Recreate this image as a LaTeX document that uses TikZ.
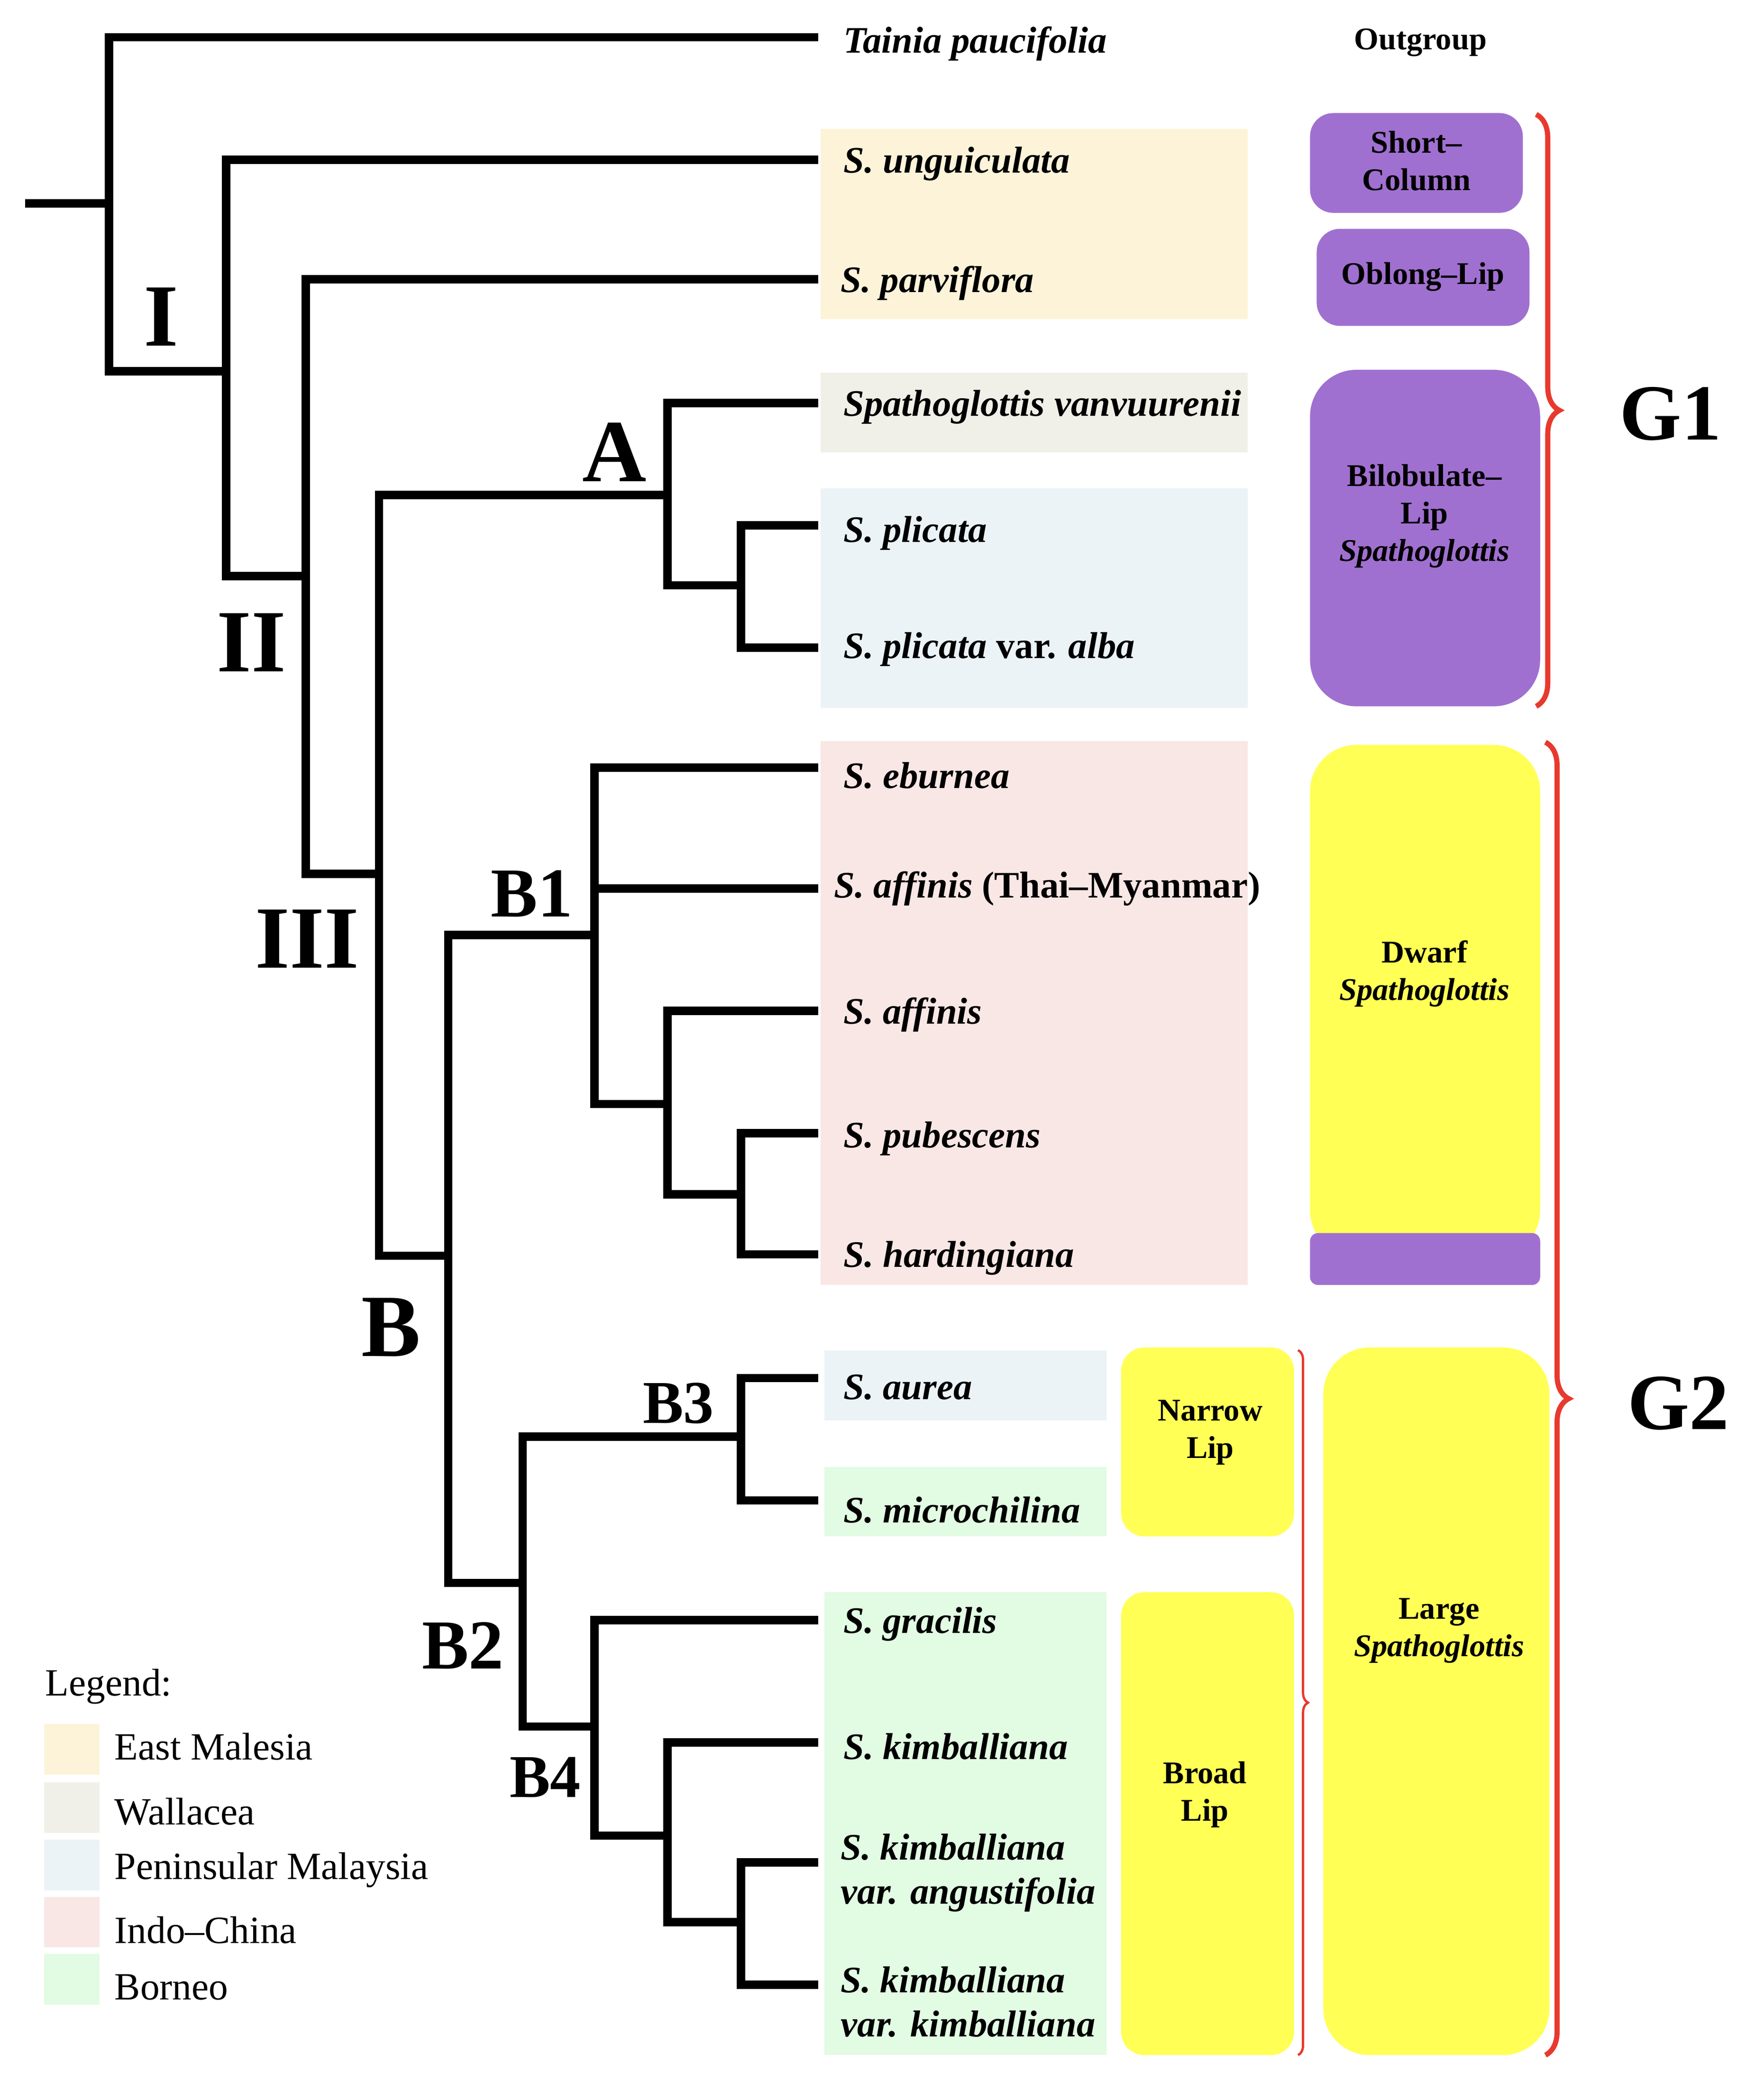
\documentclass[tikz,border=0pt]{standalone}
\usepackage{fontspec}
\setmainfont{Liberation Serif}
\usetikzlibrary{decorations.pathreplacing}
\begin{document}
\begin{tikzpicture}[x=0.02cm,y=-0.02cm,
 br/.style={line width=3.6pt,line cap=rect},
 tx/.style={anchor=west,font=\fontsize{16}{19}\selectfont\itshape\bfseries},
 big/.style={font=\fontsize{38}{42}\selectfont\bfseries},
 mid/.style={font=\fontsize{26}{30}\selectfont\bfseries},
 box/.style={rounded corners=0.35cm},
 bl/.style={font=\fontsize{13.5}{16}\selectfont\bfseries,align=center},
 lg/.style={anchor=west,font=\fontsize{16.5}{19}\selectfont}]
\useasboundingbox (0,0) rectangle (1326,1578);
\definecolor{em}{HTML}{FDF3D9}\definecolor{wa}{HTML}{F1F0E8}
\definecolor{pm}{HTML}{EBF3F7}\definecolor{ic}{HTML}{F9E7E5}
\definecolor{bo}{HTML}{E2FBE3}\definecolor{pu}{HTML}{A070D0}
\definecolor{ye}{HTML}{FFFF55}\definecolor{rd}{HTML}{E8392E}
% region backgrounds
\fill[em] (617,97) rectangle (938,240);
\fill[wa] (617,280) rectangle (938,340);
\fill[pm] (617,367) rectangle (938,532);
\fill[ic] (617,557) rectangle (938,966);
\fill[pm] (620,1015) rectangle (832,1068);
\fill[bo] (620,1103) rectangle (832,1155);
\fill[bo] (620,1197) rectangle (832,1545);
% tree
\draw[br] (22,153)--(82,153);
\draw[br] (612,28)--(82,28)--(82,279)--(170,279);
\draw[br] (612,120)--(170,120)--(170,433)--(230,433);
\draw[br] (612,210)--(230,210)--(230,657)--(285,657);
\draw[br] (285,372)--(285,944)--(337,944);
\draw[br] (285,372)--(502,372);
\draw[br] (612,303)--(502,303)--(502,440)--(557,440);
\draw[br] (612,395)--(557,395)--(557,487)--(612,487);
\draw[br] (337,703)--(337,1190)--(393,1190);
\draw[br] (337,703)--(447,703);
\draw[br] (612,577)--(447,577)--(447,830)--(502,830);
\draw[br] (447,668)--(612,668);
\draw[br] (612,760)--(502,760)--(502,898)--(557,898);
\draw[br] (612,852)--(557,852)--(557,943)--(612,943);
\draw[br] (393,1080)--(393,1298)--(447,1298);
\draw[br] (393,1080)--(557,1080);
\draw[br] (612,1036)--(557,1036)--(557,1128)--(612,1128);
\draw[br] (612,1218)--(447,1218)--(447,1380)--(502,1380);
\draw[br] (612,1310)--(502,1310)--(502,1445)--(557,1445);
\draw[br] (612,1400)--(557,1400)--(557,1492)--(612,1492);
% clade labels
\node[big] (nI) at (121,238) {I};
\node[big] (nII) at (189,483) {II};
\node[big] (nIII) at (231,706) {III};
\node[big] (nA) at (462,340) {A};
\node[mid,font=\fontsize{30}{34}\selectfont\bfseries] (nB1) at (400,672) {B1};
\node[big] (nB) at (294,998) {B};
\node[mid] (nB3) at (510,1055) {B3};
\node[mid,font=\fontsize{30}{34}\selectfont\bfseries] (nB2) at (348,1237) {B2};
\node[mid] (nB4) at (410,1336) {B4};
% taxa
\node[tx] (t1) at (628,33) {Tainia paucifolia};
\node[tx] (t2) at (628,123) {S. unguiculata};
\node[tx] (t3) at (626,213) {S. parviflora};
\node[tx] (t4) at (628,306) {Spathoglottis vanvuurenii};
\node[tx] (t5) at (628,401) {S. plicata};
\node[tx] (t6) at (628,488) {S. plicata \textup{var.} alba};
\node[tx] (t7) at (628,583) {S. eburnea};
\node[tx] (t8) at (621,668) {S. affinis \textup{(Thai–Myanmar)}};
\node[tx] (t9) at (628,763) {S. affinis};
\node[tx] (t10) at (628,856) {S. pubescens};
\node[tx] (t11) at (628,946) {S. hardingiana};
\node[tx] (t12) at (628,1043) {S. aurea};
\node[tx] (t13) at (628,1135) {S. microchilina};
\node[tx] (t14) at (628,1221) {S. gracilis};
\node[tx] (t15) at (628,1313) {S. kimballiana};
\node[tx,align=left] (t16) at (626,1408) {S. kimballiana\\var. angustifolia};
\node[tx,align=left] (t17) at (626,1505) {S. kimballiana\\var. kimballiana};
\node[bl] (og) at (1068,32) {Outgroup};
% trait boxes
\fill[pu,box] (985,85) rectangle (1145,160);
\node[bl] (b1) at (1065,121) {Short–\\Column};
\fill[pu,box] (990,172) rectangle (1150,245);
\node[bl] (b2) at (1070,208) {Oblong–Lip};
\fill[pu,rounded corners=0.7cm] (985,278) rectangle (1158,531);
\node[bl] (b3) at (1071,388) {Bilobulate–\\Lip\\\textit{Spathoglottis}};
\fill[ye,rounded corners=0.7cm] (985,560) rectangle (1158,945);
\fill[pu,rounded corners=0.12cm] (985,927) rectangle (1158,966);
\node[bl] (b4) at (1071,732) {Dwarf\\\textit{Spathoglottis}};
\fill[ye,box] (843,1013) rectangle (973,1155);
\node[bl] (b5) at (910,1077) {Narrow\\Lip};
\fill[ye,box] (843,1197) rectangle (973,1545);
\node[bl] (b6) at (906,1349) {Broad\\Lip};
\fill[ye,rounded corners=0.7cm] (995,1013) rectangle (1165,1545);
\node[bl] (b7) at (1082,1226) {Large\\\textit{Spathoglottis}};
% braces
\draw[rd,line width=2.2pt,decorate,decoration={brace,amplitude=0.35cm}] (1155,86)--(1155,531);
\draw[rd,line width=2.2pt,decorate,decoration={brace,amplitude=0.35cm}] (1162,558)--(1162,1545);
\draw[rd,line width=1pt,decorate,decoration={brace,amplitude=0.15cm}] (976,1015)--(976,1545);
\node[big,font=\fontsize{34}{38}\selectfont\bfseries] (g1) at (1256,311) {G1};
\node[big,font=\fontsize{34}{38}\selectfont\bfseries] (g2) at (1262,1055) {G2};
% legend
\node[lg] (lt) at (28,1268) {Legend:};
\fill[em] (33,1296) rectangle (75,1334); \node[lg] (l1) at (80,1313) {East Malesia};
\fill[wa] (33,1340) rectangle (75,1378); \node[lg] (l2) at (80,1362) {Wallacea};
\fill[pm] (33,1383) rectangle (75,1421); \node[lg] (l3) at (80,1406) {Peninsular Malaysia};
\fill[ic] (33,1426) rectangle (75,1464); \node[lg] (l4) at (80,1451) {Indo–China};
\fill[bo] (33,1469) rectangle (75,1507); \node[lg] (l5) at (80,1494) {Borneo};
\end{tikzpicture}
\end{document}
